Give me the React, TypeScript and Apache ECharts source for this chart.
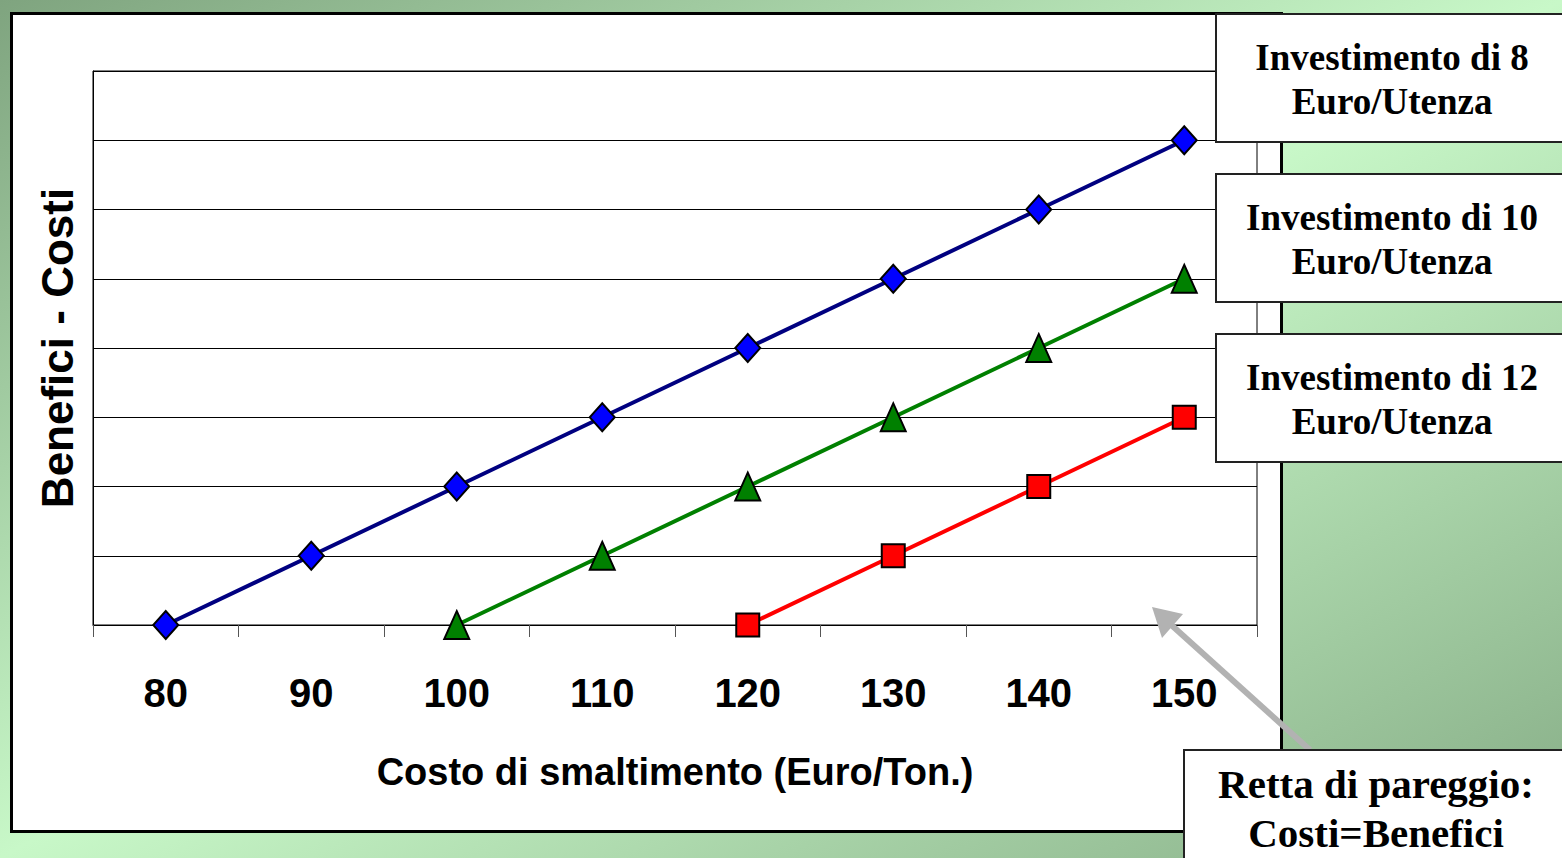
import React, { useEffect, useRef } from "react";
import * as echarts from "echarts";

const categories = ["80", "90", "100", "110", "120", "130", "140", "150"];
const invest8 = [0, 1, 2, 3, 4, 5, 6, 7];
const invest10: (number | string)[] = ["-", "-", 0, 1, 2, 3, 4, 5];
const invest12: (number | string)[] = ["-", "-", "-", "-", 0, 1, 2, 3];
const boxLabels = [
  ["Investimento di 8", "Euro/Utenza"],
  ["Investimento di 10", "Euro/Utenza"],
  ["Investimento di 12", "Euro/Utenza"],
];
const noteLabel = ["Retta di pareggio:", "Costi=Benefici"];
const xTitle = "Costo di smaltimento (Euro/Ton.)";
const yTitle = "Benefici - Costi";

const SERIF = "Liberation Serif";
const SANS = "Liberation Sans";

export default function App() {
  const ref = useRef<HTMLDivElement>(null);
  useEffect(() => {
    if (!ref.current) return;
    const chart = echarts.init(ref.current, undefined, { renderer: "svg" });
    const boxTops = [14, 174, 334];
    const graphics: any[] = [
      {
        type: "rect",
        z: -10,
        shape: { x: 11.5, y: 13.5, width: 1270, height: 818 },
        style: { fill: "#ffffff", stroke: "#000000", lineWidth: 3 },
      },
    ];
    boxTops.forEach((top, i) => {
      graphics.push({
        type: "rect",
        z: 100,
        shape: { x: 1216, y: top, width: 360, height: 128 },
        style: { fill: "#ffffff", stroke: "#222222", lineWidth: 2 },
      });
      graphics.push({
        type: "text",
        z: 101,
        x: 1392,
        y: top + 65,
        style: {
          text: boxLabels[i].join("\n"),
          fontFamily: SERIF,
          fontWeight: "bold",
          fontSize: 37,
          lineHeight: 44,
          fill: "#000",
          align: "center",
          verticalAlign: "middle",
        },
      });
    });
    graphics.push({
      type: "line",
      z: 99,
      shape: { x1: 1310, y1: 750, x2: 1168, y2: 622 },
      style: { stroke: "#b2b2b2", lineWidth: 6 },
    });
    graphics.push({
      type: "polygon",
      z: 99,
      shape: { points: [[1152, 607], [1162, 638], [1183, 614]] },
      style: { fill: "#b2b2b2" },
    });
    graphics.push({
      type: "rect",
      z: 100,
      shape: { x: 1184, y: 750, width: 400, height: 130 },
      style: { fill: "#ffffff", stroke: "#222222", lineWidth: 2 },
    });
    graphics.push({
      type: "text",
      z: 101,
      x: 1376,
      y: 808,
      style: {
        text: noteLabel.join("\n"),
        fontFamily: SERIF,
        fontWeight: "bold",
        fontSize: 41,
        lineHeight: 49,
        fill: "#000",
        align: "center",
        verticalAlign: "middle",
      },
    });

    const markerStyle = (c: string) => ({ color: c, borderColor: "#000", borderWidth: 2 });
    chart.setOption({
      animation: false,
      backgroundColor: "transparent",
      grid: {
        left: 93,
        right: 305,
        top: 71,
        bottom: 233,
        show: true,
        borderColor: "#000",
        borderWidth: 1,
        backgroundColor: "transparent",
      },
      xAxis: {
        type: "category",
        data: categories,
        boundaryGap: true,
        axisLine: { lineStyle: { color: "#000", width: 1 } },
        axisTick: { show: true, length: 12, lineStyle: { color: "#555" } },
        axisLabel: {
          margin: 48,
          fontFamily: SANS,
          fontWeight: "bold",
          fontSize: 40,
          color: "#000",
        },
        name: xTitle,
        nameLocation: "middle",
        nameGap: 128,
        nameTextStyle: { fontFamily: SANS, fontWeight: "bold", fontSize: 38, color: "#000" },
      },
      yAxis: {
        type: "value",
        min: 0,
        max: 8,
        interval: 1,
        axisLine: { show: true, lineStyle: { color: "#000", width: 1 } },
        axisTick: { show: false },
        axisLabel: { show: false },
        splitLine: { show: true, lineStyle: { color: "#000", width: 1 } },
        name: yTitle,
        nameLocation: "middle",
        nameRotate: 90,
        nameGap: 14,
        nameTextStyle: { fontFamily: SANS, fontWeight: "bold", fontSize: 44, color: "#000" },
      },
      series: [
        {
          type: "line",
          data: invest8,
          symbol: "diamond",
          symbolSize: [25, 28],
          lineStyle: { color: "#000080", width: 4 },
          itemStyle: markerStyle("#0000ff"),
          z: 5,
        },
        {
          type: "line",
          data: invest10,
          symbol: "triangle",
          symbolSize: [25, 28],
          lineStyle: { color: "#008000", width: 4 },
          itemStyle: markerStyle("#008000"),
          z: 4,
        },
        {
          type: "line",
          data: invest12,
          symbol: "rect",
          symbolSize: 23,
          lineStyle: { color: "#ff0000", width: 4 },
          itemStyle: markerStyle("#ff0000"),
          z: 3,
        },
      ],
      graphic: graphics,
    });
    return () => chart.dispose();
  }, []);
  return (
    <div
      style={{
        position: "fixed",
        left: 0,
        top: 0,
        width: 1562,
        height: 858,
        background: "linear-gradient(to bottom right, #7fa47f 0%, #c8f8c8 50%, #86ac86 100%)",
        overflow: "hidden",
      }}
    >
      <div ref={ref} style={{ width: 1562, height: 858 }} />
    </div>
  );
}
